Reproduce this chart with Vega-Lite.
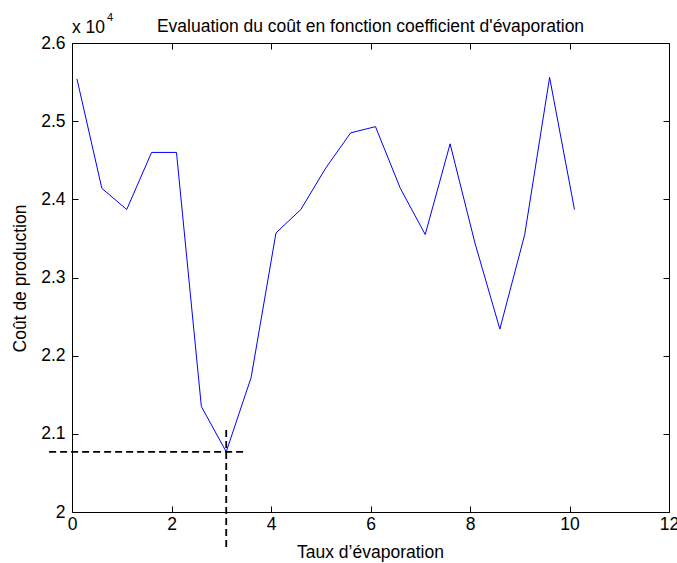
{
  "$schema": "https://vega.github.io/schema/vega-lite/v6.json",
  "autosize": {"type": "none"},
  "width": 597,
  "height": 469,
  "padding": {"left": 72, "top": 43, "right": 8, "bottom": 51},
  "background": "white",
  "config": {
    "view": {"stroke": "#000000", "strokeWidth": 1},
    "font": "Liberation Sans",
    "axis": {
      "grid": false,
      "domain": false,
      "ticks": true,
      "offset": -6,
      "tickColor": "#000000",
      "tickSize": 6,
      "tickWidth": 1,
      "labelFlush": false,
      "labelOverlap": false,
      "labelColor": "#000000",
      "labelFont": "Liberation Sans",
      "labelFontSize": 17.5,
      "titleFont": "Liberation Sans",
      "titleFontSize": 17.5,
      "titleFontWeight": "normal",
      "titleColor": "#000000"
    },
    "title": {"font": "Liberation Sans", "fontSize": 17.5, "fontWeight": "normal", "color": "#000000"}
  },
  "title": {
    "text": "Evaluation du coût en fonction coefficient d'évaporation",
    "anchor": "middle",
    "frame": "group",
    "offset": -23
  },
  "datasets": {
    "cost": [
      {"taux": 0.1, "cout": 25540},
      {"taux": 0.6, "cout": 24140},
      {"taux": 1.1, "cout": 23870},
      {"taux": 1.6, "cout": 24600},
      {"taux": 2.1, "cout": 24600},
      {"taux": 2.6, "cout": 21350},
      {"taux": 3.1, "cout": 20770},
      {"taux": 3.6, "cout": 21720},
      {"taux": 4.1, "cout": 23570},
      {"taux": 4.6, "cout": 23870},
      {"taux": 5.1, "cout": 24400},
      {"taux": 5.6, "cout": 24850},
      {"taux": 6.1, "cout": 24930},
      {"taux": 6.6, "cout": 24140},
      {"taux": 7.1, "cout": 23550},
      {"taux": 7.6, "cout": 24710},
      {"taux": 8.1, "cout": 23440},
      {"taux": 8.6, "cout": 22340},
      {"taux": 9.1, "cout": 23550},
      {"taux": 9.6, "cout": 25560},
      {"taux": 10.1, "cout": 23870}
    ],
    "guides": [
      {"x": -0.46, "x2": 3.52, "y": 20770, "y2": 20770},
      {"x": 3.1, "x2": 3.1, "y": 21050, "y2": 19540}
    ],
    "exponent": [
      {"x": 0, "y": 26000, "base": "x 10", "power": "4"}
    ]
  },
  "layer": [
    {
      "data": {"name": "cost"},
      "mark": {"type": "line", "color": "#0000ff", "strokeWidth": 1, "clip": false},
      "encoding": {
        "x": {
          "field": "taux", "type": "quantitative",
          "scale": {"domain": [0, 12], "nice": false, "zero": false},
          "axis": {
            "orient": "bottom",
            "values": [0, 2, 4, 6, 8, 10, 12],
            "labelPadding": 3,
            "title": "Taux d’évaporation",
            "titleX": 298,
            "titleY": 51,
            "titleBaseline": "alphabetic",
            "titleAlign": "center"
          }
        },
        "y": {
          "field": "cout", "type": "quantitative",
          "scale": {"domain": [20000, 26000], "nice": false, "zero": false},
          "axis": {
            "orient": "left",
            "values": [20000, 21000, 22000, 23000, 24000, 25000, 26000],
            "labelExpr": "format(datum.value / 10000, '~g')",
            "labelPadding": 7,
            "title": "Coût de production",
            "titleX": -53,
            "titleY": 235,
            "titleAngle": -90,
            "titleBaseline": "alphabetic",
            "titleAlign": "center"
          }
        }
      }
    },
    {
      "data": {"name": "cost"},
      "mark": {"type": "line", "opacity": 0},
      "encoding": {
        "x": {
          "field": "taux", "type": "quantitative",
          "axis": {"orient": "top", "values": [0, 2, 4, 6, 8, 10, 12], "labels": false, "title": null}
        },
        "y": {
          "field": "cout", "type": "quantitative",
          "axis": {"orient": "right", "values": [20000, 21000, 22000, 23000, 24000, 25000, 26000], "labels": false, "title": null}
        }
      }
    },
    {
      "data": {"name": "guides"},
      "mark": {"type": "rule", "color": "#000000", "strokeWidth": 1.8, "strokeDash": [7, 4], "clip": false},
      "encoding": {
        "x": {"field": "x", "type": "quantitative", "axis": null},
        "x2": {"field": "x2"},
        "y": {"field": "y", "type": "quantitative", "axis": null},
        "y2": {"field": "y2"}
      }
    },
    {
      "data": {"name": "exponent"},
      "mark": {"type": "text", "align": "left", "baseline": "alphabetic", "dx": 0, "dy": -10, "fontSize": 17.5, "color": "#000000", "font": "Liberation Sans"},
      "encoding": {
        "x": {"field": "x", "type": "quantitative", "axis": null},
        "y": {"field": "y", "type": "quantitative", "axis": null},
        "text": {"field": "base"}
      }
    },
    {
      "data": {"name": "exponent"},
      "mark": {"type": "text", "align": "left", "baseline": "alphabetic", "dx": 35, "dy": -22, "fontSize": 11, "color": "#000000", "font": "Liberation Sans"},
      "encoding": {
        "x": {"field": "x", "type": "quantitative", "axis": null},
        "y": {"field": "y", "type": "quantitative", "axis": null},
        "text": {"field": "power"}
      }
    }
  ],
  "resolve": {"axis": {"x": "independent", "y": "independent"}}
}
